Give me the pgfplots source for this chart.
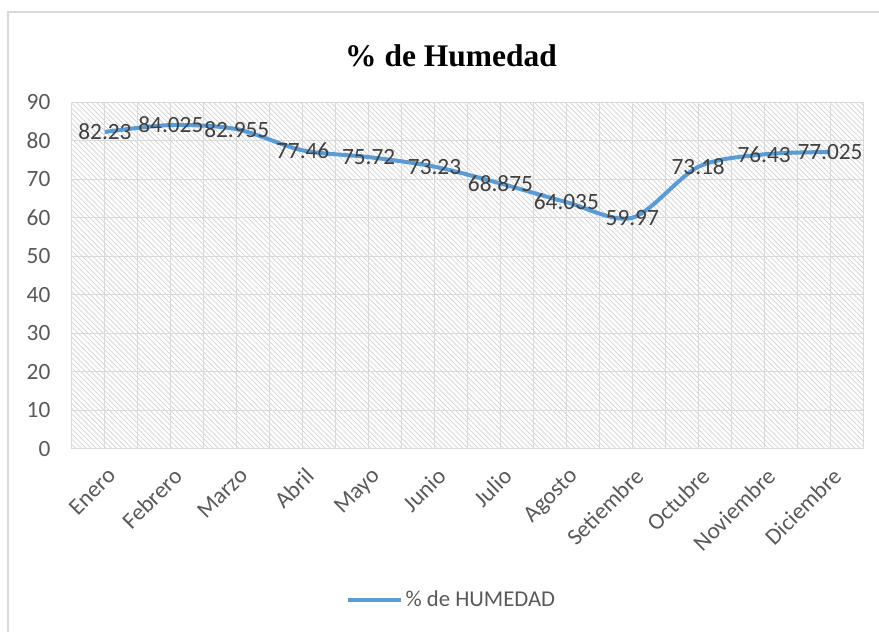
\documentclass[border=0pt]{standalone}
\usepackage{fontspec}
\setmainfont{Carlito}
\newfontfamily\titlefont{Liberation Serif}
\usepackage{pgfplots}
\usepackage{pgfplotstable}
\pgfplotsset{compat=1.18}
\usetikzlibrary{patterns.meta}

\definecolor{linea}{HTML}{5B9BD5}
\definecolor{rejilla}{HTML}{D9D9D9}
\definecolor{textogris}{HTML}{595959}
\definecolor{etiqueta}{HTML}{404040}

% humedad mensual (%)
\pgfplotstableread{
x  y       etq
0  82.23   82.23
1  84.025  84.025
2  82.955  82.955
3  77.46   77.46
4  75.72   75.72
5  73.23   73.23
6  68.875  68.875
7  64.035  64.035
8  59.97   59.97
9  73.18   73.18
10 76.43   76.43
11 77.025  77.025
}\humedad

\begin{document}
\begin{tikzpicture}
  \useasboundingbox (0pt,0pt) rectangle (659.25pt,474pt);
  \draw[rejilla, line width=1.1pt] (6pt,-10pt) -- (6pt,465pt) -- (680pt,465pt);
  \node[font=\titlefont\bfseries\fontsize{23.6}{28}\selectfont] at (338.25pt,432pt) {\% de Humedad};

  \begin{axis}[
      at={(54pt,137.25pt)}, anchor=south west,
      scale only axis,
      width=593.25pt, height=260.25pt,
      xmin=-0.5, xmax=11.5,
      ymin=0, ymax=90,
      xtick={0,...,11},
      xticklabels={Enero,Febrero,Marzo,Abril,Mayo,Junio,Julio,Agosto,Setiembre,Octubre,Noviembre,Diciembre},
      minor xtick={-0.5,0.5,...,11.5},
      ytick={0,10,...,90},
      grid=both,
      major grid style={rejilla, line width=0.75pt},
      minor grid style={rejilla, line width=0.75pt},
      axis line style={rejilla, line width=0.75pt},
      major tick length=0pt, minor tick length=0pt,
      tick label style={font=\fontsize{17.5}{21}\selectfont, text=textogris},
      yticklabel style={inner sep=0pt, xshift=-16pt},
      xticklabel style={inner sep=0pt, yshift=-13pt, xshift=1pt, rotate=45, anchor=north east},
      /pgf/number format/assume math mode=true,
      axis background/.style={pattern={Lines[angle=-45, distance=2.7pt, line width=0.5pt]}, pattern color=gray!38},
      clip=false,
      legend style={at={(0.48,-0.435)}, anchor=center, draw=none, fill=none,
                    font=\fontsize{17}{20}\selectfont, text=textogris},
      legend image code/.code={\draw[#1] (0pt,0pt) -- (40pt,0pt);},
    ]
    \addplot[linea, line width=3pt, smooth,
      nodes near coords, point meta=explicit symbolic,
      nodes near coords style={anchor=center, font=\fontsize{17.5}{20}\selectfont, text=etiqueta}]
      table[x=x, y=y, meta=etq] {\humedad};
    \addlegendentry{\% de HUMEDAD}
  \end{axis}
\end{tikzpicture}
\end{document}
